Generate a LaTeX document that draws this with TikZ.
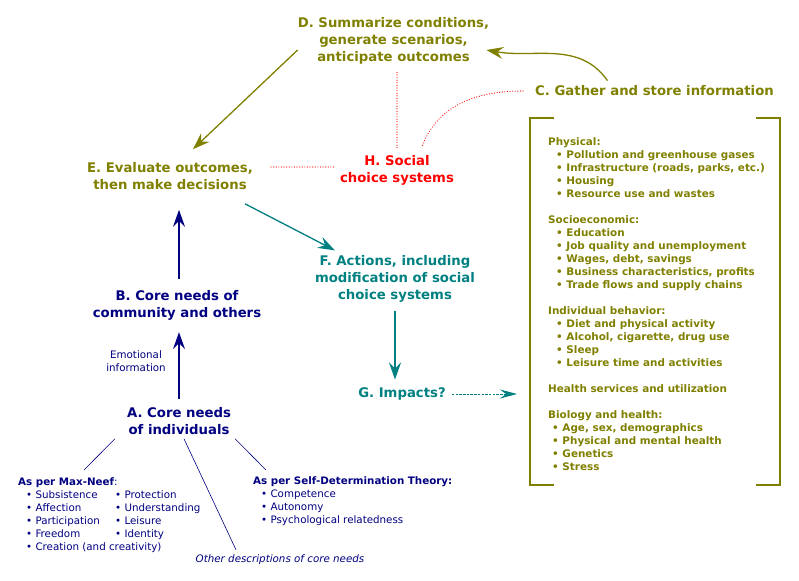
\documentclass[tikz,border=0pt]{standalone}
\usepackage{fontspec}
\setmainfont{DejaVu Sans}
\usepackage{xcolor}
\usetikzlibrary{arrows.meta,positioning}
\definecolor{olivec}{HTML}{808000}
\definecolor{navyc}{HTML}{000080}
\definecolor{tealc}{HTML}{008080}
\definecolor{redc}{HTML}{FF0000}
\newcommand{\bul}{\hspace{8pt}\textbullet\ }
\newcommand{\bulb}{\hspace{4pt}\textbullet\ }

\begin{document}
\begin{tikzpicture}[x=1pt,y=1pt]
		\tikzset{title/.style = {align=center, inner sep=0pt, font=\bfseries\fontsize{13.25}{17}\selectfont}}
		\tikzset{small/.style = {align=left, inner sep=0pt, text=navyc, font=\fontsize{10.3}{13}\selectfont}}
		\tikzset{arr/.style = {-{Stealth[length=17pt,width=12pt,inset=6pt]}, line width=1.3pt}}
		\tikzset{dots/.style = {draw=redc, line width=1.2pt, line cap=round, dash pattern=on 0pt off 2.6pt}}
		\tikzset{thin/.style = {navyc, line width=0.6pt}}

		\useasboundingbox (0,0) rectangle (799,-580);

		\node[title, text=olivec] (D) at (393.5,-41) {D. Summarize conditions,\\generate scenarios,\\anticipate outcomes};
		\node[title, text=olivec] (C) at (654.5,-91) {C. Gather and store information};
		\node[title, text=olivec] (E) at (170,-176) {E. Evaluate outcomes,\\then make decisions};
		\node[title, text=redc] (H) at (397,-170) {H. Social\\choice systems};
		\node[title, text=tealc] (F) at (395,-279) {F. Actions, including\\modification of social\\choice systems};
		\node[title, text=navyc] (B) at (177,-305) {B. Core needs of\\community and others};
		\node[title, text=navyc] (A) at (179,-421) {A. Core needs\\of individuals};
		\node[title, text=tealc] (G) at (402,-394) {G. Impacts?};

		\node[small, align=center] (emo) at (136,-361) {Emotional\\information};

		\node[small, anchor=north west] (MN) at (18,-476) {%
			\begin{tabular}{@{}p{97pt}@{}l@{}}
			\multicolumn{2}{@{}l@{}}{\textbf{As per Max-Neef}:} \\
			\bul Subsistence & \textbullet\ Protection \\
			\bul Affection & \textbullet\ Understanding \\
			\bul Participation & \textbullet\ Leisure \\
			\bul Freedom & \textbullet\ Identity \\
			\multicolumn{2}{@{}l@{}}{\bul Creation (and creativity)}
			\end{tabular}};
		\node[small, anchor=north west] (SDT) at (253,-476) {\textbf{As per Self-Determination Theory:}\\
			\bul Competence\\ \bul Autonomy\\ \bul Psychological relatedness};
		\node[small, font=\itshape\fontsize{10.3}{13}\selectfont] (other) at (280,-560) {Other descriptions of core needs};

		\node[small, anchor=north west, text=olivec, font=\bfseries\fontsize{10.4}{13}\selectfont] (info) at (548,-137) {%
			Physical:\\
			\bul Pollution and greenhouse gases\\
			\bul Infrastructure (roads, parks, etc.)\\
			\bul Housing\\
			\bul Resource use and wastes\\[13pt]
			Socioeconomic:\\
			\bul Education\\
			\bul Job quality and unemployment\\
			\bul Wages, debt, savings\\
			\bul Business characteristics, profits\\
			\bul Trade flows and supply chains\\[13pt]
			Individual behavior:\\
			\bul Diet and physical activity\\
			\bul Alcohol, cigarette, drug use\\
			\bul Sleep\\
			\bul Leisure time and activities\\[13pt]
			Health services and utilization\\[13pt]
			Biology and health:\\
			\bulb Age, sex, demographics\\
			\bulb Physical and mental health\\
			\bulb Genetics\\
			\bulb Stress};

		% bracket round the list
		\coordinate (brL) at (530,-394);
		\draw[olivec, line width=1.6pt] (554,-118) -- (530,-118) -- (530,-485) -- (554,-485);
		\draw[olivec, line width=1.6pt] (756,-118) -- (780,-118) -- (780,-485) -- (756,-485);

		\draw[arr, olivec] ([xshift=-47pt,yshift=5pt]C.north) to[out=125,in=-10] ([xshift=-3pt,yshift=-9pt]D.east);
		\draw[arr, olivec] ([yshift=-9pt]D.west) -- ([xshift=23pt,yshift=13pt]E.north);
		\draw[arr, navyc] ([xshift=2pt,yshift=11pt]B.north) -- ([xshift=2pt,yshift=-20pt]B.north |- E.south);
		\draw[arr, navyc] ([yshift=8pt]A.north) -- ([yshift=-12pt]A.north |- B.south);
		\draw[arr, tealc] ([xshift=-8pt,yshift=-14pt]E.south east) -- ([xshift=20pt,yshift=5pt]F.north west);
		\draw[arr, tealc] ([yshift=-8pt]F.south) -- ([yshift=8pt]G.north -| F.south);
		\draw[tealc, dash pattern=on 2.5pt off 1.2pt, line width=1pt, -{Stealth[length=17pt,width=9pt,inset=6pt]}] ([xshift=6pt]G.east) -- ([xshift=-13pt]brL);

		\draw[dots] ([yshift=7pt]H.north) -- ([yshift=-7pt]H.north |- D.south);
		\draw[dots] ([xshift=-12pt]C.west) to[out=180,in=70] ([xshift=25pt,yshift=8pt]H.north);
		\draw[dots] ([xshift=18pt,yshift=9pt]E.east) -- ([xshift=-6pt,yshift=9pt]E.east -| H.west);

		\draw[thin] ([xshift=-12pt,yshift=-4pt]A.south west) -- ([xshift=66pt,yshift=6pt]MN.north west);
		\draw[thin] ([xshift=5pt,yshift=-4pt]A.south) -- ([xshift=-44pt,yshift=5pt]other.north);
		\draw[thin] ([xshift=4pt,yshift=-4pt]A.south east) -- ([xshift=13pt,yshift=6pt]SDT.north west);
\end{tikzpicture}
\end{document}
